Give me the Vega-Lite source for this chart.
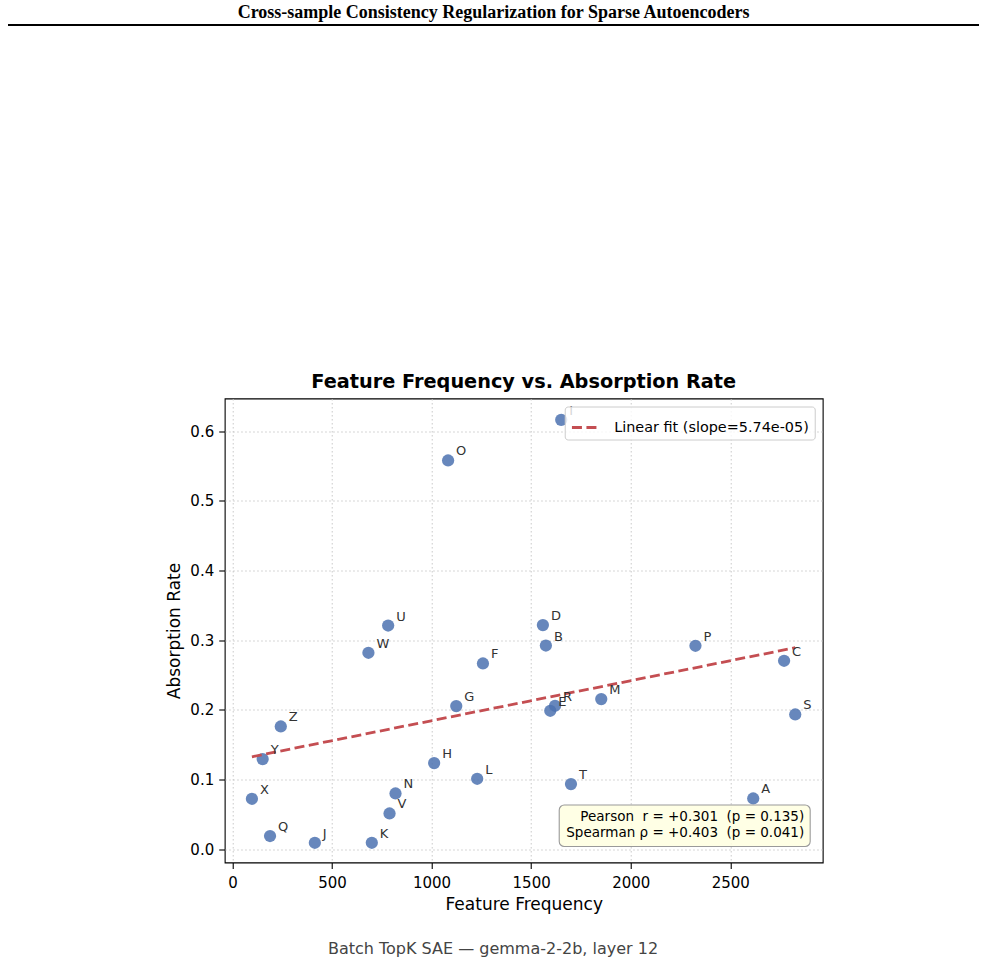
{
  "$schema": "https://vega.github.io/schema/vega-lite/v6.json",
  "background": "white",
  "padding": {"left": 7, "right": 7, "top": 0, "bottom": 4},
  "center": true,
  "spacing": 346.5,
  "resolve": {"scale": {"color": "independent"}, "legend": {"color": "independent"}},
  "title": {
    "text": "Batch TopK SAE — gemma-2-2b, layer 12",
    "orient": "bottom",
    "anchor": "middle",
    "dx": -30.5,
    "font": "DejaVu Sans",
    "fontSize": 16,
    "fontWeight": "normal",
    "color": "#444444",
    "offset": 28
  },
  "config": {
    "font": "DejaVu Sans",
    "view": {"stroke": "black", "strokeWidth": 1.1},
    "axis": {
      "domain": false,
      "labelFont": "DejaVu Sans",
      "titleFont": "DejaVu Sans",
      "labelFontSize": 15,
      "titleFontSize": 17,
      "titleFontWeight": "normal",
      "labelColor": "black",
      "titleColor": "black",
      "tickColor": "black",
      "tickSize": 6,
      "tickWidth": 1.1,
      "grid": true,
      "gridColor": "#c4c4c4",
      "gridDash": [1.5, 2.5],
      "gridWidth": 0.9
    },
    "legend": {
      "orient": "top-right",
      "offset": 8,
      "padding": 5.5,
      "cornerRadius": 3,
      "strokeColor": "#cccccc",
      "fillColor": "rgba(255,255,255,0.8)",
      "labelFont": "DejaVu Sans",
      "labelFontSize": 14.4,
      "labelColor": "black",
      "labelLimit": 400,
      "labelOffset": 13,
      "symbolType": "stroke",
      "symbolSize": 760,
      "symbolStrokeWidth": 2.8,
      "symbolDash": [10, 4.5]
    }
  },
  "vconcat": [
    {
      "width": 1032,
      "height": 26,
      "view": {"stroke": null},
      "data": {"values": [{"heading": "Cross-sample Consistency Regularization for Sparse Autoencoders"}]},
      "layer": [
        {
          "mark": {"type": "text", "font": "Liberation Serif", "fontWeight": "bold", "fontSize": 18, "baseline": "middle", "align": "center", "color": "black"},
          "encoding": {
            "x": {"datum": 0.4705, "type": "quantitative", "scale": {"domain": [0, 1]}, "axis": null},
            "y": {"datum": 0.5, "type": "quantitative", "scale": {"domain": [0, 1]}, "axis": null},
            "text": {"field": "heading"}
          }
        },
        {
          "mark": {"type": "rule", "color": "black", "strokeWidth": 2},
          "encoding": {
            "x": {"datum": 0, "type": "quantitative"},
            "x2": {"datum": 0.9409},
            "y": {"datum": 0.04, "type": "quantitative"}
          }
        }
      ]
    },
    {
      "width": 598,
      "height": 464,
      "title": {
        "text": "Feature Frequency vs. Absorption Rate",
        "font": "DejaVu Sans",
        "fontSize": 19.3,
        "fontWeight": "bold",
        "color": "black",
        "anchor": "middle",
        "offset": 6
      },
      "data": {
        "values": [
          {"feature": "A", "frequency": 2615, "absorption": 0.0726},
          {"feature": "B", "frequency": 1574, "absorption": 0.2922},
          {"feature": "C", "frequency": 2770, "absorption": 0.2703},
          {"feature": "D", "frequency": 1559, "absorption": 0.3215},
          {"feature": "E", "frequency": 1596, "absorption": 0.1985},
          {"feature": "F", "frequency": 1258, "absorption": 0.2664},
          {"feature": "G", "frequency": 1124, "absorption": 0.2053},
          {"feature": "H", "frequency": 1013, "absorption": 0.1234},
          {"feature": "I", "frequency": 1651, "absorption": 0.6162},
          {"feature": "J", "frequency": 414, "absorption": 0.0090},
          {"feature": "K", "frequency": 700, "absorption": 0.0090},
          {"feature": "L", "frequency": 1229, "absorption": 0.1009},
          {"feature": "M", "frequency": 1852, "absorption": 0.2153},
          {"feature": "N", "frequency": 819, "absorption": 0.0798},
          {"feature": "O", "frequency": 1083, "absorption": 0.5578},
          {"feature": "P", "frequency": 2325, "absorption": 0.2918},
          {"feature": "Q", "frequency": 189, "absorption": 0.0187},
          {"feature": "R", "frequency": 1620, "absorption": 0.2057},
          {"feature": "S", "frequency": 2826, "absorption": 0.1932},
          {"feature": "T", "frequency": 1700, "absorption": 0.0933},
          {"feature": "U", "frequency": 782, "absorption": 0.3209},
          {"feature": "V", "frequency": 789, "absorption": 0.0511},
          {"feature": "W", "frequency": 683, "absorption": 0.2818},
          {"feature": "X", "frequency": 98, "absorption": 0.0722},
          {"feature": "Y", "frequency": 152, "absorption": 0.1292},
          {"feature": "Z", "frequency": 243, "absorption": 0.1760}
        ]
      },
      "layer": [
        {
          "mark": {"type": "point", "filled": true, "shape": "circle", "size": 150, "color": "#4c72b0", "opacity": 0.85},
          "encoding": {
            "x": {
              "field": "frequency",
              "type": "quantitative",
              "scale": {"domain": [-38.5, 2964], "nice": false, "zero": false},
              "axis": {
                "title": "Feature Frequency",
                "values": [0, 500, 1000, 1500, 2000, 2500],
                "format": "d",
                "labelPadding": 7,
                "titlePadding": 6,
                "labelFlush": false
              }
            },
            "y": {
              "field": "absorption",
              "type": "quantitative",
              "scale": {"domain": [-0.0193, 0.6468], "nice": false, "zero": false},
              "axis": {
                "title": "Absorption Rate",
                "values": [0, 0.1, 0.2, 0.3, 0.4, 0.5, 0.6],
                "format": ".1f",
                "labelPadding": 5,
                "titlePadding": 6,
                "labelFlush": false
              }
            }
          }
        },
        {
          "data": {
            "values": [
              {"frequency": 98, "fit": 0.1325, "series": "Linear fit (slope=5.74e-05)"},
              {"frequency": 2826, "fit": 0.2891, "series": "Linear fit (slope=5.74e-05)"}
            ]
          },
          "mark": {"type": "line", "strokeWidth": 2.8, "strokeDash": [10, 4.5]},
          "encoding": {
            "x": {"field": "frequency", "type": "quantitative"},
            "y": {"field": "fit", "type": "quantitative"},
            "color": {
              "field": "series",
              "type": "nominal",
              "scale": {"range": ["#c44e52"]},
              "legend": {"title": null}
            }
          }
        },
        {
          "mark": {"type": "text", "align": "left", "baseline": "middle", "dx": 8, "dy": -9, "fontSize": 13, "color": "#333333"},
          "encoding": {
            "x": {"field": "frequency", "type": "quantitative"},
            "y": {"field": "absorption", "type": "quantitative"},
            "text": {"field": "feature"}
          }
        },
        {
          "data": {"values": [{"pearson": "Pearson\u00a0 r = +0.301\u00a0 (p = 0.135)", "spearman": "Spearman ρ = +0.403\u00a0 (p = 0.041)"}]},
          "layer": [
            {
              "mark": {"type": "rect", "cornerRadius": 5, "fill": "#ffffe0", "fillOpacity": 0.85, "stroke": "#9a9a9a", "strokeWidth": 1.1},
              "encoding": {
                "x": {"datum": 1641, "type": "quantitative"},
                "x2": {"datum": 2901},
                "y": {"datum": 0.0632, "type": "quantitative"},
                "y2": {"datum": 0.0037}
              }
            },
            {
              "mark": {"type": "text", "align": "right", "baseline": "middle", "fontSize": 13.5, "color": "black"},
              "encoding": {
                "x": {"datum": 2871, "type": "quantitative"},
                "y": {"datum": 0.0454, "type": "quantitative"},
                "text": {"field": "pearson"}
              }
            },
            {
              "mark": {"type": "text", "align": "right", "baseline": "middle", "fontSize": 13.5, "color": "black"},
              "encoding": {
                "x": {"datum": 2871, "type": "quantitative"},
                "y": {"datum": 0.0224, "type": "quantitative"},
                "text": {"field": "spearman"}
              }
            }
          ]
        }
      ]
    }
  ]
}
